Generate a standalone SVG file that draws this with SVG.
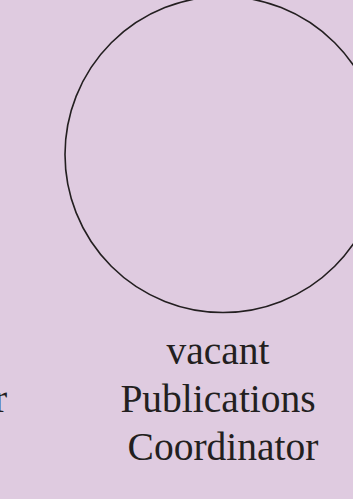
<svg xmlns="http://www.w3.org/2000/svg" width="353" height="499" viewBox="0 0 353 499">
  <style>
    .bg { fill: #dfcbe0; }
    .node { fill: none; stroke: #231f20; stroke-width: 1.6; }
    .label { font-family: "Liberation Serif", "Times New Roman", serif; font-size: 39.5px; fill: #231f20; }
  </style>
  <rect class="bg" x="0" y="0" width="353" height="499"/>
  <g id="connectors"></g>
  <g id="node-publications">
    <circle class="node" cx="223" cy="154.5" r="158"/>
    <text class="label" text-anchor="middle" x="223">
      <tspan x="223" y="364">vacant</tspan>
      <tspan x="223" y="412">Publications</tspan>
      <tspan x="223" y="460">Coordinator</tspan>
    </text>
  </g>
  <g id="node-left">
    <text class="label" x="-6" y="412">r</text>
  </g>
</svg>
